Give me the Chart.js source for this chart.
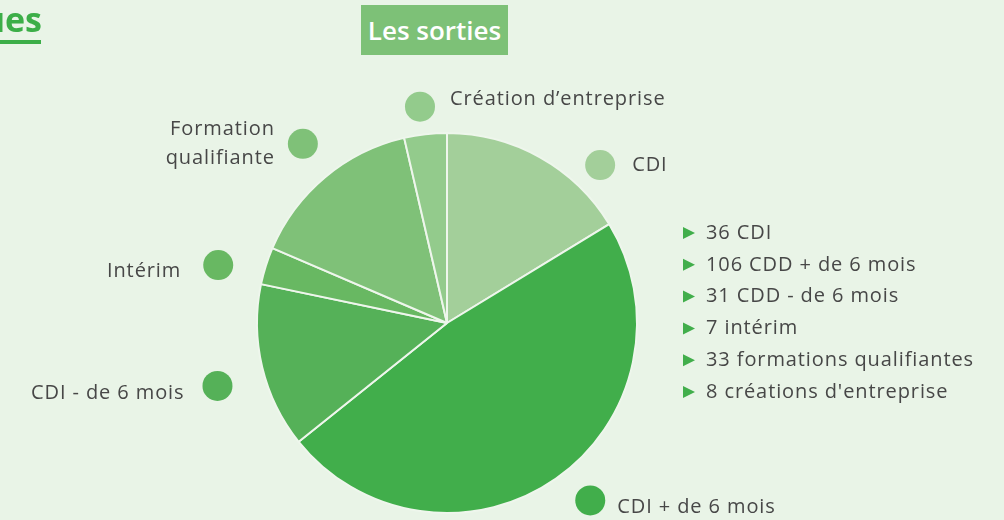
<!DOCTYPE html>
<html><head><meta charset="utf-8">
<script src="https://cdn.jsdelivr.net/npm/chart.js@4/dist/chart.umd.min.js"></script>
<style>
html,body{margin:0;padding:0;background:#e9f4e7;}
#wrap{position:relative;width:1004px;height:520px;overflow:hidden;background:#e9f4e7;font-family:"Open Sans",sans-serif;}
#cv{position:absolute;left:0;top:0;}
#title{position:absolute;left:361px;top:5px;width:147px;height:50px;background:#7dc177;color:#fff;font-weight:600;font-size:26px;line-height:50px;text-align:center;}
#head{position:absolute;right:962px;top:-4px;color:#3cae48;font-weight:700;font-size:34px;line-height:46px;white-space:nowrap;}
#headline{position:absolute;left:0;top:40px;width:41px;height:4px;background:#3cae48;}
</style></head>
<body><div id="wrap">
<canvas id="cv" width="1004" height="520"></canvas>
<div id="head">ues</div><div id="headline"></div>
<div id="title">Les sorties</div>
</div>
<script>
const categories = ["CDI", "CDI + de 6 mois", "CDI - de 6 mois", "Intérim", "Formation\nqualifiante", "Création d’entreprise"];
const values = [36, 106, 31, 7, 33, 8];
const listItems = ["36 CDI", "106 CDD + de 6 mois", "31 CDD - de 6 mois", "7 intérim", "33 formations qualifiantes", "8 créations d'entreprise"];
const colors = ["#a3cf9a", "#41ae4b", "#55b158", "#68b862", "#7fc178", "#93cb8c"];

const labelPlugin = {
  id: 'sliceLabels',
  afterDraw(chart, args, opts) {
    const ctx = chart.ctx;
    const meta = chart.getDatasetMeta(0);
    ctx.save();
    ctx.letterSpacing = "0.9px";
    meta.data.forEach((arc, i) => {
      const mid = (arc.startAngle + arc.endAngle) / 2 + opts.angleOffsets[i] * Math.PI / 180;
      const r = opts.radii[i];
      const x = arc.x + r * Math.cos(mid), y = arc.y + r * Math.sin(mid);
      ctx.fillStyle = colors[i];
      ctx.beginPath(); ctx.arc(x, y, 15, 0, Math.PI * 2); ctx.fill();
      const lines = categories[i].split("\n");
      const side = opts.sides[i];
      ctx.fillStyle = "#474747";
      ctx.font = "500 20px 'Open Sans'";
      ctx.textBaseline = "middle";
      ctx.textAlign = side > 0 ? "left" : "right";
      const tx = x + side * opts.gaps[i];
      const ty = y + opts.dy[i] - (lines.length - 1) * 14.5;
      lines.forEach((l, k) => ctx.fillText(l, tx, ty + k * 29));
    });
    // right-hand list
    const lx = 688, ly = 233, step = 31.8;
    listItems.forEach((t, i) => {
      const yy = ly + i * step;
      ctx.fillStyle = "#41ae4b";
      ctx.beginPath(); ctx.moveTo(lx - 5, yy - 6); ctx.lineTo(lx + 7, yy); ctx.lineTo(lx - 5, yy + 6); ctx.closePath(); ctx.fill();
      ctx.fillStyle = "#474747";
      ctx.textAlign = "left";
      ctx.fillText(t, lx + 18, yy);
    });
    ctx.restore();
  }
};

new Chart(document.getElementById('cv'), {
  type: 'pie',
  data: { labels: categories, datasets: [{ data: values, backgroundColor: colors, borderColor: "#eef6ec", borderWidth: 2 }] },
  options: {
    responsive: false, animation: false,
    layout: { padding: { left: 256, right: 366, top: 132, bottom: 6 } },
    plugins: {
      legend: { display: false }, tooltip: { enabled: false },
      sliceLabels: {
        angleOffsets: [14.8, -3.9, -1.9, -3.3, 1.1, -0.6],
        radii: [220, 228, 238, 236, 230, 218],
        sides: [1, 1, -1, -1, -1, 1],
        gaps: [32, 27, 33, 37, 28, 30],
        dy: [0, 7, 7, 6, 0, -7]
      }
    }
  },
  plugins: [labelPlugin]
});
</script>
</body></html>
